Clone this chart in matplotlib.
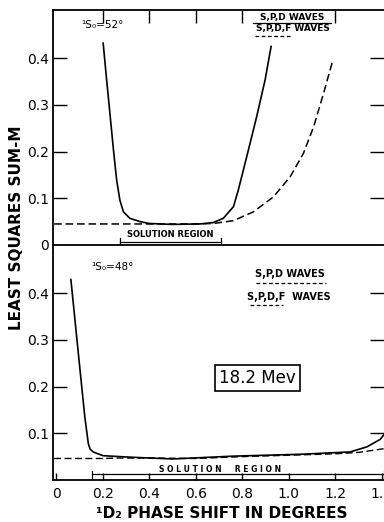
import matplotlib
matplotlib.use('Agg')
import matplotlib.pyplot as plt

# top panel, 1S0 = 52 deg
top_spd_x = [0.201, 0.216, 0.230, 0.244, 0.259, 0.273, 0.288, 0.316, 0.36, 0.40, 0.50, 0.618,
             0.675, 0.718, 0.762, 0.783, 0.819, 0.862, 0.898, 0.924]
top_spd_y = [0.432, 0.353, 0.282, 0.210, 0.139, 0.096, 0.071, 0.057, 0.050, 0.046, 0.044, 0.045,
             0.048, 0.057, 0.082, 0.118, 0.189, 0.275, 0.353, 0.425]
top_spdf_x = [-0.01, 0.2, 0.4, 0.6, 0.675, 0.762, 0.848, 0.934, 1.006, 1.063, 1.107, 1.15, 1.19]
top_spdf_y = [0.045, 0.045, 0.045, 0.045, 0.046, 0.052, 0.071, 0.103, 0.146, 0.196, 0.253, 0.325, 0.396]

# bottom panel, 1S0 = 48 deg
bot_spd_x = [0.062, 0.10, 0.122, 0.137, 0.145, 0.158, 0.20, 0.33, 0.50, 0.76, 1.05, 1.264, 1.337,
             1.394, 1.408]
bot_spd_y = [0.429, 0.242, 0.135, 0.078, 0.066, 0.060, 0.052, 0.0485, 0.045, 0.051, 0.055, 0.060,
             0.071, 0.087, 0.096]
bot_spdf_x = [-0.01, 0.1, 0.2, 0.27, 0.4, 0.6, 0.8, 1.0, 1.2, 1.3, 1.41]
bot_spdf_y = [0.046, 0.046, 0.046, 0.047, 0.047, 0.046, 0.050, 0.053, 0.056, 0.059, 0.067]

xticks = [0, 0.2, 0.4, 0.6, 0.8, 1.0, 1.2, 1.4]
xticklabels = ['0', '0.2', '0.4', '0.6', '0.8', '1.0', '1.2', '1.4']
top_yticks = [0, 0.1, 0.2, 0.3, 0.4]
top_yticklabels = ['0', '0.1', '0.2', '0.3', '0.4']
bot_yticks = [0.1, 0.2, 0.3, 0.4]
bot_yticklabels = ['0.1', '0.2', '0.3', '0.4']

top_region = (0.273, 0.709)
bot_region = (0.153, 1.41)

fig = plt.figure(figsize=(3.84, 5.22), dpi=100)
ax1 = fig.add_axes([0.138, 0.5307, 0.862, 0.4501])
ax2 = fig.add_axes([0.138, 0.0805, 0.862, 0.4502])

dash = (0, (5, 2.5))
for ax in (ax1, ax2):
    ax.set_xlim(-0.015, 1.41)
    ax.set_ylim(0, 0.503)
    ax.spines['right'].set_visible(False)
    for s in ('left', 'top', 'bottom'):
        ax.spines[s].set_linewidth(1.3)
    ax.tick_params(axis='y', which='both', direction='in', length=10, width=1.0,
                   left=True, right=True, labelsize=10, pad=3)

# top panel
ax1.plot(top_spd_x, top_spd_y, color='black', lw=1.2)
ax1.plot(top_spdf_x, top_spdf_y, color='black', lw=1.1, linestyle=dash)
ax1.set_yticks(top_yticks)
ax1.set_yticklabels(top_yticklabels)
ax1.set_xticks([0.2, 0.4, 0.6, 0.8, 1.2])
ax1.tick_params(axis='x', direction='in', length=9, width=1.0, top=True, bottom=False,
                labelbottom=False, labeltop=False)
ax1.spines['bottom'].set_visible(False)

ax1.text(0.196, 0.471, '¹S₀=52°', fontsize=7.5, ha='center', va='center')
ax1.text(1.015, 0.487, 'S,P,D WAVES', fontsize=6.5, fontweight='bold', ha='center', va='center')
ax1.plot([0.847, 1.18], [0.476, 0.476], color='black', lw=0.9)
ax1.text(1.02, 0.464, 'S,P,D,F WAVES', fontsize=6.5, fontweight='bold', ha='center', va='center')
ax1.plot([0.855, 1.006], [0.447, 0.447], color='black', lw=0.9, linestyle=(0, (3, 2)))

ax1.plot([top_region[0], top_region[1]], [0.007, 0.007], color='black', lw=0.9)
ax1.plot([top_region[0], top_region[0]], [0, 0.015], color='black', lw=0.9)
ax1.plot([top_region[1], top_region[1]], [0, 0.015], color='black', lw=0.9)
ax1.text(sum(top_region) / 2, 0.022, 'SOLUTION REGION', fontsize=6, fontweight='bold',
         ha='center', va='center')

# bottom panel
ax2.plot(bot_spd_x, bot_spd_y, color='black', lw=1.2)
ax2.plot(bot_spdf_x, bot_spdf_y, color='black', lw=1.0, linestyle=dash)
ax2.set_yticks(bot_yticks)
ax2.set_yticklabels(bot_yticklabels)
ax2.set_xticks(xticks)
ax2.set_xticklabels(xticklabels)
ax2.tick_params(axis='x', direction='in', length=5, width=1.0, labelsize=10, pad=5)
ax2.spines['top'].set_linewidth(1.3)

ax2.text(0.24, 0.455, '¹S₀=48°', fontsize=7.5, ha='center', va='center')
ax2.text(1.007, 0.44, 'S,P,D WAVES', fontsize=7, fontweight='bold', ha='center', va='center')
ax2.plot([0.86, 1.16], [0.421, 0.421], color='black', lw=0.9, linestyle=(0, (3, 2)))
ax2.text(1.0, 0.391, 'S,P,D,F  WAVES', fontsize=7, fontweight='bold', ha='center', va='center')
ax2.plot([0.833, 0.976], [0.374, 0.374], color='black', lw=0.9, linestyle=(0, (3, 2)))

ax2.text(0.864, 0.218, '18.2 Mev', fontsize=12, ha='center', va='center',
         bbox=dict(boxstyle='square,pad=0.25', facecolor='white', edgecolor='black', lw=1.2))

ax2.plot([bot_region[0], bot_region[1]], [0.013, 0.013], color='black', lw=0.9)
ax2.plot([bot_region[0], bot_region[0]], [0, 0.02], color='black', lw=0.9)
ax2.plot([bot_region[1], bot_region[1]], [0, 0.02], color='black', lw=0.9)
ax2.text(0.705, 0.023, 'S O L U T I O N     R E G I O N', fontsize=5.5, fontweight='bold',
         ha='center', va='center')

fig.text(0.044, 0.563, 'LEAST SQUARES SUM-M', rotation=90, fontsize=11, fontweight='bold',
         ha='center', va='center')
fig.text(0.578, 0.016, '¹D₂ PHASE SHIFT IN DEGREES', fontsize=11, fontweight='bold',
         ha='center', va='center')

fig.savefig('out.png', dpi=100)
